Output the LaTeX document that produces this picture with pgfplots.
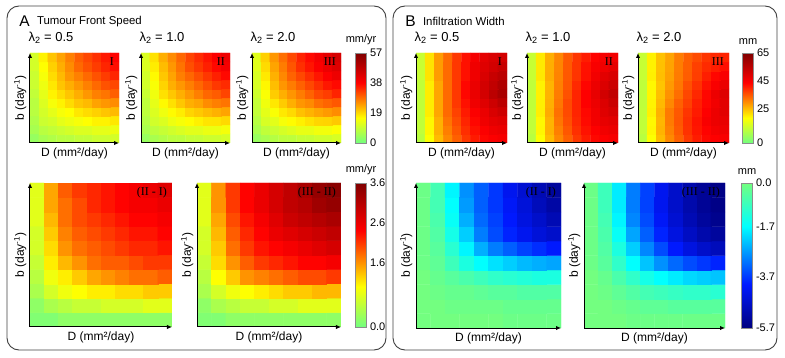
\documentclass[border=0pt]{standalone}
\usepackage{pgfplots}
\pgfplotsset{compat=1.18}
\usepackage{pgfplotstable}
\usepackage{fontspec}
\setmainfont{Liberation Sans}
\newfontfamily\romfamily{Liberation Serif}
\usetikzlibrary{arrows.meta}

\newcommand\labfnt{\fontsize{12}{14}\selectfont}
\newcommand\lamfnt{\fontsize{13}{15}\selectfont}
\newcommand\cbfnt{\fontsize{11}{13}\selectfont}
\newcommand\romfnt{\romfamily\fontsize{12}{14}\selectfont}

% cell values, bottom row (small b) first, D increasing left to right
% A: tumour front speed (mm/yr)
\pgfplotstableread[row sep=\\]{
z\\
4\\6\\7\\8\\8\\9\\9\\10\\10\\11\\
6\\8\\9\\10\\11\\12\\12\\13\\13\\14\\
7\\10\\11\\13\\14\\15\\16\\17\\17\\18\\
8\\11\\13\\15\\16\\18\\19\\20\\21\\22\\
8\\12\\15\\17\\19\\21\\22\\24\\25\\26\\
9\\13\\17\\19\\21\\23\\25\\27\\28\\30\\
10\\14\\18\\21\\23\\25\\27\\29\\31\\32\\
10\\15\\19\\22\\25\\27\\29\\31\\33\\35\\
11\\16\\20\\23\\26\\29\\31\\33\\35\\37\\
11\\17\\21\\24\\27\\30\\32\\34\\36\\38\\
}\tAone
\pgfplotstableread[row sep=\\]{
z\\
4.1\\6.1\\7.2\\8.2\\8.2\\9.2\\9.2\\10.2\\10.2\\11.2\\
6.2\\8.4\\9.5\\10.6\\11.6\\12.7\\12.7\\13.7\\13.8\\14.8\\
7.4\\10.7\\11.9\\14.0\\15.1\\16.1\\17.2\\18.2\\18.3\\19.3\\
8.5\\11.9\\14.1\\16.3\\17.5\\19.6\\20.7\\21.8\\22.8\\23.9\\
8.6\\13.1\\16.4\\18.6\\20.8\\22.9\\23.9\\26.0\\27.1\\28.1\\
9.7\\14.2\\18.6\\20.8\\22.9\\25.0\\27.1\\29.2\\30.2\\32.3\\
10.7\\15.3\\19.7\\22.9\\25.0\\27.1\\29.2\\31.3\\33.3\\34.4\\
10.8\\16.4\\20.8\\24.0\\27.1\\29.2\\31.3\\33.4\\35.4\\37.5\\
11.8\\17.5\\21.8\\25.0\\28.2\\31.3\\33.4\\35.5\\37.5\\39.6\\
11.8\\18.5\\22.9\\26.1\\29.2\\32.3\\34.4\\36.5\\38.6\\40.7\\
}\tAtwo
\pgfplotstableread[row sep=\\]{
z\\
4.2\\6.2\\7.4\\8.4\\8.4\\9.4\\9.4\\10.4\\10.4\\11.4\\
6.4\\8.8\\10.0\\11.2\\12.2\\13.4\\13.4\\14.5\\14.6\\15.6\\
7.8\\11.4\\12.8\\15.0\\16.2\\17.3\\18.5\\19.5\\19.7\\20.7\\
9.0\\12.9\\15.4\\17.9\\19.2\\21.4\\22.6\\23.8\\24.8\\26.0\\
9.2\\14.3\\18.0\\20.5\\22.9\\25.1\\26.2\\28.4\\29.5\\30.6\\
10.4\\15.5\\20.4\\22.9\\25.2\\27.4\\29.6\\31.8\\32.9\\35.1\\
11.4\\16.7\\21.6\\25.1\\27.4\\29.7\\31.9\\34.1\\36.2\\37.4\\
11.6\\17.9\\22.8\\26.3\\29.6\\31.9\\34.2\\36.4\\38.5\\40.7\\
12.6\\19.1\\23.9\\27.4\\30.8\\34.1\\36.4\\38.6\\40.8\\43.0\\
12.6\\20.1\\25.0\\28.5\\31.8\\35.1\\37.4\\39.7\\42.0\\44.2\\
}\tAthree
\pgfplotstableread[row sep=\\]{
z\\
0.1\\0.1\\0.2\\0.2\\0.2\\0.2\\0.2\\0.2\\0.2\\0.2\\
0.2\\0.4\\0.5\\0.6\\0.6\\0.7\\0.7\\0.7\\0.8\\0.8\\
0.4\\0.7\\0.9\\1.0\\1.1\\1.1\\1.2\\1.2\\1.3\\1.3\\
0.5\\0.9\\1.1\\1.3\\1.5\\1.6\\1.7\\1.8\\1.8\\1.9\\
0.6\\1.1\\1.4\\1.6\\1.8\\1.9\\1.9\\2.0\\2.1\\2.1\\
0.7\\1.2\\1.6\\1.8\\1.9\\2.0\\2.1\\2.2\\2.2\\2.3\\
0.7\\1.3\\1.7\\1.9\\2.0\\2.1\\2.2\\2.3\\2.3\\2.4\\
0.8\\1.4\\1.8\\2.0\\2.1\\2.2\\2.3\\2.4\\2.4\\2.5\\
0.8\\1.5\\1.8\\2.0\\2.2\\2.3\\2.4\\2.5\\2.5\\2.6\\
0.8\\1.5\\1.9\\2.1\\2.2\\2.3\\2.4\\2.5\\2.6\\2.7\\
}\tAdone
\pgfplotstableread[row sep=\\]{
z\\
0.1\\0.1\\0.2\\0.2\\0.2\\0.2\\0.2\\0.2\\0.2\\0.2\\
0.2\\0.4\\0.5\\0.6\\0.6\\0.7\\0.7\\0.8\\0.8\\0.8\\
0.4\\0.7\\0.9\\1.0\\1.1\\1.2\\1.3\\1.3\\1.4\\1.4\\
0.5\\1.0\\1.3\\1.6\\1.7\\1.8\\1.9\\2.0\\2.0\\2.1\\
0.6\\1.2\\1.6\\1.9\\2.1\\2.2\\2.3\\2.4\\2.4\\2.5\\
0.7\\1.3\\1.8\\2.1\\2.3\\2.4\\2.5\\2.6\\2.7\\2.8\\
0.7\\1.4\\1.9\\2.2\\2.4\\2.6\\2.7\\2.8\\2.9\\3.0\\
0.8\\1.5\\2.0\\2.3\\2.5\\2.7\\2.9\\3.0\\3.1\\3.2\\
0.8\\1.6\\2.1\\2.4\\2.6\\2.8\\3.0\\3.1\\3.3\\3.4\\
0.8\\1.6\\2.1\\2.4\\2.6\\2.8\\3.0\\3.2\\3.4\\3.5\\
}\tAdtwo
% B: infiltration width (mm)
\pgfplotstableread[row sep=\\]{
z\\
9\\18\\25\\30\\34\\38\\41\\43\\44\\45\\
10\\19\\26\\31\\35\\39\\42\\44\\46\\47\\
10\\19\\26\\32\\36\\40\\43\\46\\48\\49\\
10\\20\\27\\33\\37\\41\\44\\47\\50\\52\\
10\\20\\27\\33\\38\\42\\46\\49\\52\\55\\
10\\20\\27\\33\\38\\43\\47\\51\\55\\58\\
10\\20\\27\\33\\38\\43\\47\\51\\54\\57\\
11\\21\\28\\33\\38\\42\\46\\50\\53\\55\\
11\\21\\28\\33\\38\\42\\46\\49\\51\\53\\
11\\21\\28\\33\\38\\42\\45\\48\\50\\51\\
}\tBone
\pgfplotstableread[row sep=\\]{
z\\
9.0\\18.0\\25.0\\30.0\\34.0\\38.0\\40.9\\42.9\\43.9\\44.9\\
10.0\\19.0\\25.9\\30.9\\34.9\\38.9\\41.8\\43.8\\45.8\\46.8\\
10.0\\18.9\\25.8\\31.8\\35.7\\39.6\\42.6\\45.5\\47.5\\48.5\\
10.0\\19.8\\26.6\\32.4\\36.2\\40.0\\42.9\\45.8\\48.7\\50.7\\
9.9\\19.7\\26.2\\31.7\\36.3\\40.0\\43.8\\46.6\\49.5\\52.4\\
9.9\\19.6\\25.9\\31.2\\35.5\\40.0\\43.7\\47.4\\51.2\\54.0\\
9.9\\19.5\\25.6\\30.8\\35.0\\39.5\\43.1\\46.8\\49.5\\52.3\\
10.9\\20.4\\26.4\\30.5\\34.8\\38.4\\42.0\\45.6\\48.3\\50.0\\
10.9\\20.3\\26.3\\30.3\\34.7\\38.3\\41.9\\44.5\\46.1\\47.8\\
10.9\\20.3\\26.2\\30.2\\34.7\\38.3\\40.8\\43.4\\45.0\\45.7\\
}\tBtwo
\pgfplotstableread[row sep=\\]{
z\\
9.0\\18.0\\25.0\\29.9\\33.9\\37.9\\40.8\\42.8\\43.8\\44.8\\
10.0\\19.0\\25.8\\30.7\\34.6\\38.6\\41.4\\43.4\\45.4\\46.4\\
10.0\\18.8\\25.5\\31.3\\35.0\\38.8\\41.7\\44.5\\46.5\\47.4\\
10.0\\19.6\\26.0\\31.4\\34.8\\38.3\\41.0\\43.7\\46.5\\48.4\\
9.8\\19.3\\25.2\\30.0\\34.0\\37.2\\40.6\\43.1\\45.8\\48.5\\
9.8\\19.1\\24.6\\29.0\\32.6\\36.5\\39.7\\43.0\\46.5\\49.1\\
9.8\\18.9\\24.0\\28.2\\31.7\\35.6\\38.7\\42.0\\44.4\\47.0\\
10.8\\19.7\\24.6\\27.6\\31.3\\34.3\\37.4\\40.6\\43.0\\44.5\\
10.8\\19.5\\24.4\\27.3\\31.1\\34.1\\37.2\\39.4\\40.7\\42.2\\
10.8\\19.5\\24.3\\27.2\\31.1\\34.1\\36.1\\38.3\\39.6\\40.1\\
}\tBthree
\pgfplotstableread[row sep=\\]{
z\\
0.0\\0.0\\0.0\\0.0\\0.0\\0.0\\-0.1\\-0.1\\-0.1\\-0.1\\
0.0\\0.0\\-0.1\\-0.1\\-0.1\\-0.1\\-0.2\\-0.2\\-0.2\\-0.2\\
0.0\\-0.1\\-0.2\\-0.2\\-0.3\\-0.4\\-0.4\\-0.5\\-0.5\\-0.5\\
0.0\\-0.2\\-0.4\\-0.6\\-0.8\\-1.0\\-1.1\\-1.2\\-1.3\\-1.3\\
-0.1\\-0.3\\-0.8\\-1.3\\-1.7\\-2.0\\-2.2\\-2.4\\-2.5\\-2.6\\
-0.1\\-0.4\\-1.1\\-1.8\\-2.5\\-3.0\\-3.3\\-3.6\\-3.8\\-4.0\\
-0.1\\-0.5\\-1.4\\-2.2\\-3.0\\-3.5\\-3.9\\-4.2\\-4.5\\-4.7\\
-0.1\\-0.6\\-1.6\\-2.5\\-3.2\\-3.6\\-4.0\\-4.4\\-4.7\\-5.0\\
-0.1\\-0.7\\-1.7\\-2.7\\-3.3\\-3.7\\-4.1\\-4.5\\-4.9\\-5.2\\
-0.1\\-0.7\\-1.8\\-2.8\\-3.3\\-3.7\\-4.2\\-4.6\\-5.0\\-5.3\\
}\tBdone
\pgfplotstableread[row sep=\\]{
z\\
0.0\\0.0\\0.0\\-0.1\\-0.1\\-0.1\\-0.1\\-0.1\\-0.1\\-0.1\\
0.0\\0.0\\-0.1\\-0.2\\-0.3\\-0.3\\-0.4\\-0.4\\-0.4\\-0.4\\
0.0\\-0.1\\-0.3\\-0.5\\-0.7\\-0.8\\-0.9\\-1.0\\-1.0\\-1.1\\
0.0\\-0.2\\-0.6\\-1.0\\-1.4\\-1.7\\-1.9\\-2.1\\-2.2\\-2.3\\
-0.1\\-0.4\\-1.0\\-1.7\\-2.3\\-2.8\\-3.2\\-3.5\\-3.7\\-3.9\\
-0.1\\-0.5\\-1.3\\-2.2\\-2.9\\-3.5\\-4.0\\-4.4\\-4.7\\-4.9\\
-0.1\\-0.6\\-1.6\\-2.6\\-3.3\\-3.9\\-4.4\\-4.8\\-5.1\\-5.3\\
-0.1\\-0.7\\-1.8\\-2.9\\-3.5\\-4.1\\-4.6\\-5.0\\-5.3\\-5.5\\
-0.1\\-0.8\\-1.9\\-3.0\\-3.6\\-4.2\\-4.7\\-5.1\\-5.4\\-5.6\\
-0.1\\-0.8\\-1.9\\-3.0\\-3.6\\-4.2\\-4.7\\-5.1\\-5.4\\-5.6\\
}\tBdtwo

\pgfplotsset{
  colormap={heatmap}{rgb(0pt)=(0.45,1,0.5); rgb(28pt)=(1,1,0); rgb(67pt)=(1,0,0); rgb(100pt)=(0.5,0,0)},
  colormap={coolmap}{rgb(0pt)=(0,0,0.5); rgb(30pt)=(0,0.1,1); rgb(70pt)=(0,1,1); rgb(100pt)=(0.45,1,0.5)},
  hm/.style={
    scale only axis, enlargelimits=false, axis on top,
    xmin=-0.5, xmax=9.5, ymin=-0.5, ymax=9.5,
    axis lines=left, xtick=\empty, ytick=\empty,
    x axis line style={line width=1pt, -{Latex[length=5pt,width=4.5pt]}},
    y axis line style={line width=1pt, -{Latex[length=5pt,width=4.5pt]}},
    xlabel={D (mm²/day)}, ylabel={b (day\textsuperscript{-1})},
    label style={font=\labfnt},
    xlabel style={at={(axis description cs:0.5,0)}, anchor=north, yshift=-1pt},
    ylabel style={at={(axis description cs:0,0.5)}, anchor=south},
    title style={at={(axis description cs:0,1)}, anchor=south west, xshift=-5pt, font=\lamfnt},
  },
  spdtop/.style={colormap name=heatmap, point meta min=0, point meta max=57},
  spddiff/.style={colormap name=heatmap, point meta min=0, point meta max=3.6},
  widtop/.style={colormap name=heatmap, point meta min=0, point meta max=65},
  widdiff/.style={colormap name=coolmap, point meta min=-5.7, point meta max=0},
  cb/.style n args={4}{colorbar, colorbar style={
    at={(parent axis.north east)}, anchor=north west, xshift=#1,
    width=11pt, scale only axis, ytick={#2}, yticklabels={#3},
    major tick length=0pt, yticklabel style={font=\cbfnt},
    title={#4}, title style={font=\cbfnt, inner sep=2pt},
    axis line style={draw=black!45}}},
}
\tikzset{rom/.style={anchor=north east, font=\romfnt, inner sep=0pt, xshift=-5pt, yshift=-4pt}}
\newcommand\cells[1]{\addplot[matrix plot*, mesh/cols=10, point meta=explicit]
  table[x index=0, y index=0, x expr={mod(\coordindex,10)}, y expr={int(\coordindex/10)}, meta=z] {#1};}

\begin{document}
\begin{tikzpicture}
\useasboundingbox (0,0) rectangle (785pt,-358pt);
\draw[rounded corners=12pt, draw=black!75, line width=0.9pt] (7pt,-6pt) rectangle (386pt,-350pt);
\draw[rounded corners=12pt, draw=black!75, line width=0.9pt] (393pt,-6pt) rectangle (777pt,-350pt);
\node[font=\fontsize{15.5}{17}\selectfont] at (24.5pt,-21pt) {A};
\node[anchor=west, font=\fontsize{11.4}{13}\selectfont] at (33.5pt,-21.5pt) {Tumour Front Speed};
\node[font=\fontsize{15.5}{17}\selectfont] at (410.5pt,-21pt) {B};
\node[anchor=west, font=\fontsize{11.4}{13}\selectfont] at (419.5pt,-21.5pt) {Infiltration Width};

% panel A, top row
\begin{axis}[hm, spdtop, at={(30pt,-53pt)}, anchor=north west, width=89pt, height=90pt, title={λ\textsubscript{2} = 0.5}]
\cells{\tAone}
\node[rom] at (rel axis cs:1,1) {I};
\end{axis}
\begin{axis}[hm, spdtop, at={(141pt,-53pt)}, anchor=north west, width=89pt, height=90pt, title={λ\textsubscript{2} = 1.0}]
\cells{\tAtwo}
\node[rom] at (rel axis cs:1,1) {II};
\end{axis}
\begin{axis}[hm, spdtop, at={(252pt,-53pt)}, anchor=north west, width=89pt, height=90pt, title={λ\textsubscript{2} = 2.0},
  cb={6pt}{0,19,38,57}{0,19,38,57}{mm/yr}]
\cells{\tAthree}
\node[rom] at (rel axis cs:1,1) {III};
\end{axis}
% panel A, differences
\begin{axis}[hm, spddiff, at={(30pt,-183pt)}, anchor=north west, width=142pt, height=144pt]
\cells{\tAdone}
\node[rom] at (rel axis cs:1,1) {(II - I)};
\end{axis}
\begin{axis}[hm, spddiff, at={(197pt,-183pt)}, anchor=north west, width=144pt, height=144pt,
  cb={6pt}{0,1.6,2.6,3.6}{0.0,1.6,2.6,3.6}{mm/yr}]
\cells{\tAdtwo}
\node[rom] at (rel axis cs:1,1) {(III - II)};
\end{axis}

% panel B, top row
\begin{axis}[hm, widtop, at={(416pt,-53pt)}, anchor=north west, width=91pt, height=90pt, title={λ\textsubscript{2} = 0.5}]
\cells{\tBone}
\node[rom] at (rel axis cs:1,1) {I};
\end{axis}
\begin{axis}[hm, widtop, at={(527pt,-53pt)}, anchor=north west, width=91pt, height=90pt, title={λ\textsubscript{2} = 1.0}]
\cells{\tBtwo}
\node[rom] at (rel axis cs:1,1) {II};
\end{axis}
\begin{axis}[hm, widtop, at={(638pt,-53pt)}, anchor=north west, width=91pt, height=90pt, title={λ\textsubscript{2} = 2.0},
  cb={5pt}{0,25,45,65}{0,25,45,65}{mm}]
\cells{\tBthree}
\node[rom] at (rel axis cs:1,1) {III};
\end{axis}
% panel B, differences
\begin{axis}[hm, widdiff, at={(416pt,-183pt)}, anchor=north west, width=145pt, height=145pt]
\cells{\tBdone}
\node[rom] at (rel axis cs:1,1) {(II - I)};
\end{axis}
\begin{axis}[hm, widdiff, at={(584pt,-183pt)}, anchor=north west, width=141pt, height=145pt,
  cb={8pt}{-5.7,-3.7,-1.7,0}{-5.7,-3.7,-1.7,0.0}{mm}]
\cells{\tBdtwo}
\node[rom] at (rel axis cs:1,1) {(III - II)};
\end{axis}
\end{tikzpicture}
\end{document}
